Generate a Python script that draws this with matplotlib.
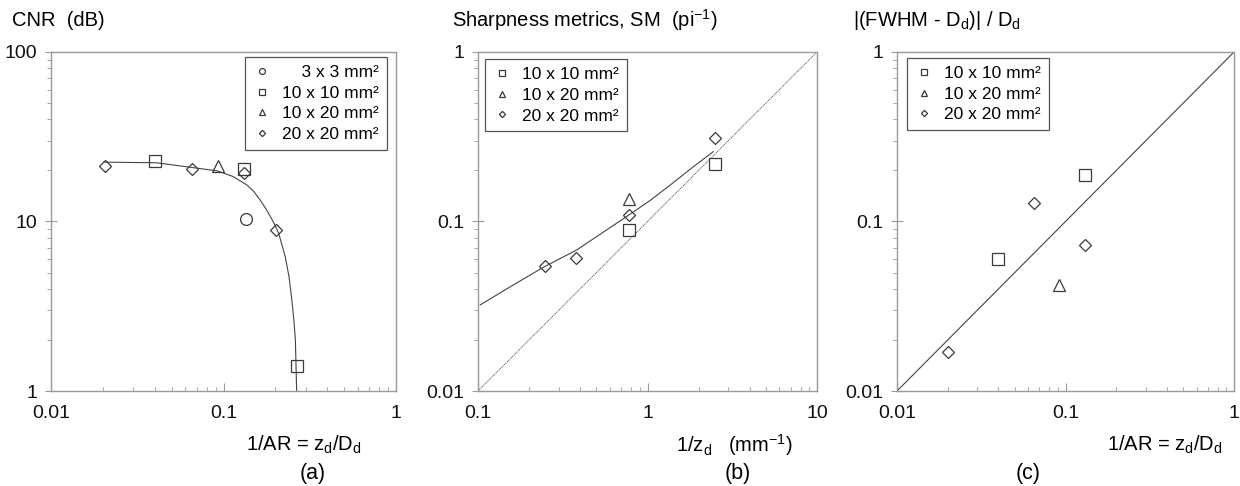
import matplotlib

matplotlib.use("Agg")
import matplotlib.pyplot as plt
from matplotlib.ticker import FuncFormatter, LogLocator, NullFormatter

plt.rcParams["font.family"] = ["Liberation Sans", "DejaVu Sans"]
plt.rcParams["mathtext.fontset"] = "custom"
plt.rcParams["mathtext.rm"] = "Liberation Sans"

INK = "#3a3a3a"
SPINE = "#9a9a9a"

# ---- panel (a): CNR vs 1/AR
a_circle_x = [0.135]
a_circle_y = [10.4]
a_square_x = [0.040, 0.132, 0.267]
a_square_y = [22.7, 20.5, 1.41]
a_tri_x = [0.0935]
a_tri_y = [21.2]
a_diam_x = [0.0205, 0.066, 0.132, 0.202]
a_diam_y = [21.3, 20.3, 19.4, 8.9]
a_fit_x = [0.0205, 0.041, 0.064, 0.092, 0.114, 0.137, 0.150, 0.163, 0.175,
           0.187, 0.198, 0.209, 0.228, 0.240, 0.249, 0.256, 0.261, 0.2655]
a_fit_y = [22.4, 22.2, 20.9, 19.9, 18.4, 16.4, 15.0, 13.4, 12.0,
           10.7, 9.6, 8.5, 6.2, 4.7, 3.44, 2.6, 2.0, 1.0]

# ---- panel (b): sharpness metrics vs 1/z_d
b_square_x = [0.78, 2.50]
b_square_y = [0.089, 0.218]
b_tri_x = [0.78]
b_tri_y = [0.135]
b_diam_x = [0.25, 0.38, 0.78, 2.50]
b_diam_y = [0.0548, 0.061, 0.109, 0.31]
b_fit_x = [0.103, 0.155, 0.243, 0.382, 0.753, 1.035, 1.36, 1.86, 2.44]
b_fit_y = [0.0322, 0.0412, 0.0537, 0.0679, 0.107, 0.133, 0.164, 0.21, 0.258]
b_ref_x = [0.1, 10]
b_ref_y = [0.01, 1]

# ---- panel (c): |FWHM - Dd| / Dd vs 1/AR
c_square_x = [0.040, 0.130]
c_square_y = [0.0597, 0.188]
c_tri_x = [0.0917]
c_tri_y = [0.042]
c_diam_x = [0.020, 0.065, 0.130]
c_diam_y = [0.0171, 0.129, 0.0728]
c_ref_x = [0.01, 1]
c_ref_y = [0.01, 1]

SUB = r"$_\mathregular{d}$"
SUP = lambda s: r"$^\mathregular{%s}$" % s


def style_axes(ax, xlim, ylim):
    ax.set_xscale("log")
    ax.set_yscale("log")
    ax.set_xlim(*xlim)
    ax.set_ylim(*ylim)
    for sp in ax.spines.values():
        sp.set_color(SPINE)
        sp.set_linewidth(1.0)
    fmt = FuncFormatter(lambda v, p: "%g" % v)
    for axis in (ax.xaxis, ax.yaxis):
        axis.set_major_locator(LogLocator(base=10))
        axis.set_minor_locator(LogLocator(base=10, subs=range(2, 10)))
        axis.set_major_formatter(fmt)
        axis.set_minor_formatter(NullFormatter())
    ax.tick_params(axis="x", which="major", direction="in", length=6, color=SPINE,
                   labelsize=14, pad=10, labelcolor="#111111")
    ax.tick_params(axis="x", which="minor", direction="in", length=3, color=SPINE)
    ax.tick_params(axis="y", which="major", direction="inout", length=8, color=SPINE,
                   labelsize=14, pad=6, labelcolor="#111111")
    ax.tick_params(axis="y", which="minor", direction="out", length=3, color=SPINE)


def points(ax, x, y, marker, size, label):
    ax.plot(x, y, linestyle="none", marker=marker, markersize=size,
            markerfacecolor="none", markeredgecolor=INK, markeredgewidth=0.9,
            label=label)


def legend(ax, loc, anchor):
    leg = ax.legend(loc=loc, bbox_to_anchor=anchor, borderaxespad=0,
                    fancybox=False, framealpha=1, edgecolor="#555555",
                    fontsize=12.5, markerscale=0.5, handlelength=1.0,
                    handletextpad=0.7, labelspacing=0.32, borderpad=0.45)
    leg.get_frame().set_linewidth(0.9)
    return leg


fig = plt.figure(figsize=(12.4, 4.86), dpi=100)

MS_O, MS_S, MS_T, MS_D = 8.5, 8.0, 9.0, 6.3

# (a)
ax_a = fig.add_axes([51 / 1240, 95 / 486, 345 / 1240, 339 / 486])
style_axes(ax_a, (0.01, 1), (1, 100))
ax_a.plot(a_fit_x, a_fit_y, color="#444444", linewidth=0.8)
points(ax_a, a_circle_x, a_circle_y, "o", MS_O, "    3 x 3 mm²")
points(ax_a, a_square_x, a_square_y, "s", MS_S, "10 x 10 mm²")
points(ax_a, a_tri_x, a_tri_y, "^", MS_T, "10 x 20 mm²")
points(ax_a, a_diam_x, a_diam_y, "D", MS_D, "20 x 20 mm²")
legend(ax_a, "upper right", (0.974, 0.985))

# (b)
ax_b = fig.add_axes([478 / 1240, 95 / 486, 339 / 1240, 339 / 486])
style_axes(ax_b, (0.1, 10), (0.01, 1))
ax_b.plot(b_ref_x, b_ref_y, color="#444444", linewidth=0.7, linestyle=(0, (1, 1)))
ax_b.plot(b_fit_x, b_fit_y, color="#444444", linewidth=0.8)
points(ax_b, b_square_x, b_square_y, "s", MS_S, "10 x 10 mm²")
points(ax_b, b_tri_x, b_tri_y, "^", MS_T, "10 x 20 mm²")
points(ax_b, b_diam_x, b_diam_y, "D", MS_D, "20 x 20 mm²")
legend(ax_b, "upper left", (0.021, 0.979))

# (c)
ax_c = fig.add_axes([897 / 1240, 95 / 486, 337 / 1240, 339 / 486])
style_axes(ax_c, (0.01, 1), (0.01, 1))
ax_c.plot(c_ref_x, c_ref_y, color="#444444", linewidth=0.8)
points(ax_c, c_square_x, c_square_y, "s", MS_S, "10 x 10 mm²")
points(ax_c, c_tri_x, c_tri_y, "^", MS_T, "10 x 20 mm²")
points(ax_c, c_diam_x, c_diam_y, "D", MS_D, "20 x 20 mm²")
legend(ax_c, "upper left", (0.030, 0.982))

# titles, axis labels, panel tags
ty = 1 - 20 / 486
fs = 14.5
fig.text(12 / 1240, ty, "CNR  (dB)", fontsize=fs, va="center")
fig.text(452 / 1240, ty, "Sharpness metrics, SM  (pi" + SUP("-1") + ")", fontsize=fs, va="center")
fig.text(853 / 1240, ty, "|(FWHM - D" + SUB + ")| / D" + SUB, fontsize=fs, va="center")

ly = 1 - 445 / 486
xlab_ar = "1/AR = z" + SUB + "/D" + SUB
fig.text(362 / 1240, ly, xlab_ar, fontsize=fs, ha="right", va="center")
fig.text(793 / 1240, ly, "1/z" + SUB + "   (mm" + SUP("-1") + ")", fontsize=fs, ha="right", va="center")
fig.text(1223 / 1240, ly, xlab_ar, fontsize=fs, ha="right", va="center")

py = 1 - 473 / 486
fig.text(313 / 1240, py, "(a)", fontsize=fs + 1, ha="center", va="center")
fig.text(738 / 1240, py, "(b)", fontsize=fs + 1, ha="center", va="center")
fig.text(1028 / 1240, py, "(c)", fontsize=fs + 1, ha="center", va="center")

fig.savefig("out.png", dpi=100, facecolor="white")
plt.close(fig)
